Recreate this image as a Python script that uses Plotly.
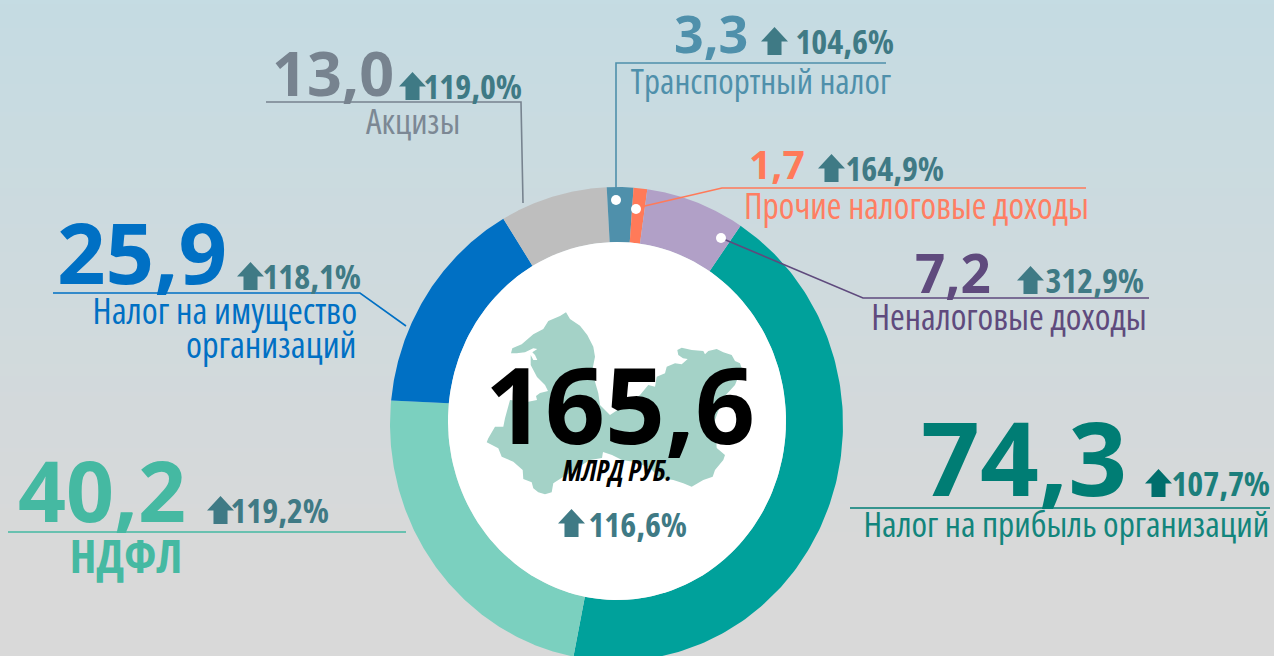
import numpy as np
import plotly.graph_objects as go

# ---------- data ----------
categories = ["Налог на прибыль организаций", "НДФЛ", "Налог на имущество<br>организаций",
              "Акцизы", "Транспортный налог", "Прочие налоговые доходы", "Неналоговые доходы"]
values = [74.3, 40.2, 25.9, 13.0, 3.3, 1.7, 7.2]
growth = [107.7, 119.2, 118.1, 119.0, 104.6, 164.9, 312.9]
# Arc sizes as they are drawn in the picture (the purple arc is drawn larger than its label)
arc_sizes = [72.6, 39.0, 25.0, 12.65, 3.13, 1.61, 11.68]
total = 165.6
total_growth = 116.6
unit = "МЛРД РУБ."

# ---------- styling / layout ----------
W, H = 1274, 656
slice_colors = ["#00a19b", "#7bd0bf", "#0070c4", "#bebebe", "#4f90ab", "#ff7a59", "#b1a0c7"]
num_colors = ["#007d74", "#45b9a2", "#0070c4", "#77838f", "#4f90ab", "#ff7a59", "#5f4a7d"]
lab_colors = ["#12857c", "#45b9a2", "#0070c4", "#7c8894", "#4f90ab", "#ff7e62", "#5f4a7d"]
arrow_colors = ["#006e6c"] + ["#3f7a85"] * 6
growth_colors = ["#1c7f7c"] + ["#3f7a85"] * 6
NARROW = "Open Sans, Roboto"
BOLD = "Open Sans"
START_DEG = 33.2

num_pos = [(1128, 497, 103), (187, 523, 84), (228, 285, 85), (395, 97, 61), (749, 54, 52), (806, 180, 39), (992, 294, 53)]
gr_pos = [(1145, 497, 1271), (207, 524, 330), (237, 290, 362), (399, 100, 523), (761, 55, 895), (818, 182, 945), (1017, 294, 1145)]
lab_pos = [(1270, 538, 35.4), (126, 574, 46), (358, 325, 36.3), (461, 135, 35), (892, 95, 35), (1090, 220, 35.5), (1148, 331, 35.7)]
leader_lines = [
    [(850, 508), (1270, 508)],
    [(8, 532), (406, 532)],
    [(53, 293), (360, 293), (406, 326)],
    [(266, 102), (521, 102), (523, 203)],
    [(616, 200), (616, 63), (886, 63)],
    [(636, 208), (722, 188), (1086, 188)],
    [(721, 238), (863, 298), (1149, 298)],
]
dots = [(616, 200), (636, 209), (721, 238)]

# outline of the region silhouette behind the total (decorative illustration)
map_outline = [
    (566,312.3),(570,319),(580,325.7),(587.3,335),(593.3,346.7),(595,356.7),(592.7,368.3),(595,381.7),(598.3,393.3),(600,405),
    (610,415),(625,405),(640,395),(648.3,385),(655,386.7),(656.7,376.7),(665,373.3),(666.7,366.7),(675,363.3),(681.7,364.3),
    (687.7,359),(683,358.3),(678.3,355),(677.3,350),(681.7,347.7),(691.7,350),(703.3,351),(705,354.3),(708.3,351),(716.7,349),
    (723.3,352.3),(731.7,355),(735,361),(740,363.3),(741.7,368.3),(735,385),(723,398),(715,420),(716.7,448),(725,455),
    (723.3,460),(715,470),(712.7,476.7),(703.3,480),(691.7,486.7),(683.3,483.3),(673.3,480),(660,478),(650,468),(635,462),
    (622,460),(612,455),(603,452),(602,458),(590,460),(576.7,468.3),(563.3,476.7),(558.3,480),(553.3,483.3),(551.7,492.3),
    (545,494.3),(538.3,492.3),(533.3,488.3),(531.7,482.3),(523.3,479),(522.7,470),(513.3,461.7),(501.7,456.7),(498.3,448.3),
    (486.7,442.3),(488.3,438.3),(495,426.7),(503.3,426.7),(505,418.3),(508.3,405),(510,400),(527,402),(537,400),(536,396),
    (540,393),(548,391),(545,385),(537,377),(530.7,365),(530.7,355),(533.3,360),(537.3,360),(535,355),(532.3,352.3),(537.3,349),
    (533.3,348.3),(525,352.3),(516.7,353.3),(511,353.3),(512.3,348.3),(521.7,344.3),(533.3,334.3),(543.3,329),(548.3,321),(560,316),
]

fig = go.Figure()

def arc(cx, cy, rx, ry, a0, a1):
    t = np.radians(np.linspace(a0, a1, 160))
    return cx + rx * np.sin(t), cy - ry * np.cos(t)

shares = np.array(arc_sizes) / sum(arc_sizes) * 360
ends = START_DEG + np.cumsum(shares)
starts = ends - shares
for i, c in enumerate(categories):
    xo, yo = arc(616.5, 424, 226.5, 237, starts[i], ends[i])
    xi, yi = arc(617, 421, 169, 179, ends[i], starts[i])
    fig.add_trace(go.Scatter(x=np.r_[xo, xi], y=np.r_[yo, yi], mode="lines", fill="toself",
                             fillcolor=slice_colors[i], line=dict(width=0), name=c.replace("<br>", " "),
                             hoverinfo="name", showlegend=False))

xw, yw = arc(617, 421, 169, 179, 0, 360)
fig.add_trace(go.Scatter(x=xw, y=yw, mode="lines", fill="toself", fillcolor="#ffffff",
                         line=dict(width=0), hoverinfo="skip", showlegend=False))

mx = [p[0] for p in map_outline]
my = [p[1] for p in map_outline]
fig.add_trace(go.Scatter(x=mx + mx[:1], y=my + my[:1], mode="lines", fill="toself", fillcolor="#a4d2c7",
                         line=dict(width=0), hoverinfo="skip", showlegend=False))

for i, pts in enumerate(leader_lines):
    fig.add_trace(go.Scatter(x=[p[0] for p in pts], y=[p[1] for p in pts], mode="lines",
                             line=dict(color=num_colors[i], width=1.6), hoverinfo="skip", showlegend=False))

fig.add_trace(go.Scatter(x=[d[0] for d in dots], y=[d[1] for d in dots], mode="markers",
                         marker=dict(color="white", size=10), hoverinfo="skip", showlegend=False))

DESC = 0.293

def text(s, x, base, size, color, font, anchor="right", bold=False, italic=False):
    fig.add_annotation(x=x, y=base + DESC * size, xref="x", yref="y", text=s, showarrow=False,
                       xanchor=anchor, yanchor="bottom", borderpad=0, align=anchor,
                       font=dict(family=font, size=size, color=color, weight=700 if bold else 400,
                                 style="italic" if italic else "normal"))

def fmt(v, pct=False):
    return f"{v:.1f}".replace(".", ",") + ("%" if pct else "")

shapes = []
for k in range(0, H, 4):
    f = min(k / 560, 1)
    c0, c1 = np.array([197, 220, 227]), np.array([217, 217, 217])
    r, g, b = (c0 + (c1 - c0) * f).astype(int)
    shapes.append(dict(type="rect", xref="x", yref="y", x0=0, x1=W, y0=k, y1=k + 4, layer="below",
                       fillcolor=f"rgb({r},{g},{b})", line=dict(width=0)))

def arrow(x, base, color):
    w, h = 27, 28
    path = (f"M{x},{base - h * .48} L{x + w / 2},{base - h} L{x + w},{base - h * .48} L{x + w * .76},{base - h * .48} "
            f"L{x + w * .76},{base} L{x + w * .24},{base} L{x + w * .24},{base - h * .48} Z")
    shapes.append(dict(type="path", path=path, xref="x", yref="y", fillcolor=color, line=dict(width=0), layer="above"))

for i, c in enumerate(categories):
    nx, nb, ns = num_pos[i]
    text(fmt(values[i]), nx, nb, ns, num_colors[i], BOLD, bold=True)
    ax, gb, gx = gr_pos[i]
    arrow(ax, gb, arrow_colors[i])
    text(fmt(growth[i], True), gx, gb, 34, growth_colors[i], NARROW, bold=True)
    lx, lb, ls = lab_pos[i]
    if i == 2:
        text("Налог на имущество", lx, lb, ls, lab_colors[i], NARROW)
        text("организаций", lx, lb + 34, ls, lab_colors[i], NARROW)
    elif i == 1:
        text(c, lx, lb, ls, lab_colors[i], NARROW, anchor="center", bold=True)
    else:
        text(c, lx, lb, ls, lab_colors[i], NARROW)

text(fmt(total), 756, 445, 105, "#000000", BOLD, bold=True)
text(unit, 673, 482, 28, "#000000", NARROW, bold=True, italic=True)
arrow(558, 537, arrow_colors[1])
text(fmt(total_growth, True), 688, 538, 34, growth_colors[1], NARROW, bold=True)

fig.update_layout(
    width=W, height=H, margin=dict(l=0, r=0, t=0, b=0), autosize=False, shapes=shapes,
    paper_bgcolor="#d9d9d9", plot_bgcolor="rgba(0,0,0,0)", showlegend=False,
    xaxis=dict(range=[0, W], visible=False, fixedrange=True),
    yaxis=dict(range=[H, 0], visible=False, fixedrange=True),
)
post = """
document.body.style.margin='0';
var st=document.createElement('style');
st.textContent='text.annotation-text[style*="Roboto"]{font-stretch:75%;}';
document.head.appendChild(st);
var gd=document.getElementById('{plot_id}');
if(document.fonts&&document.fonts.ready){document.fonts.ready.then(function(){Plotly.relayout(gd,{});});}
Plotly.relayout(gd,{});
"""
fig.write_html("out.html", config={"displayModeBar": False}, post_script=post)
